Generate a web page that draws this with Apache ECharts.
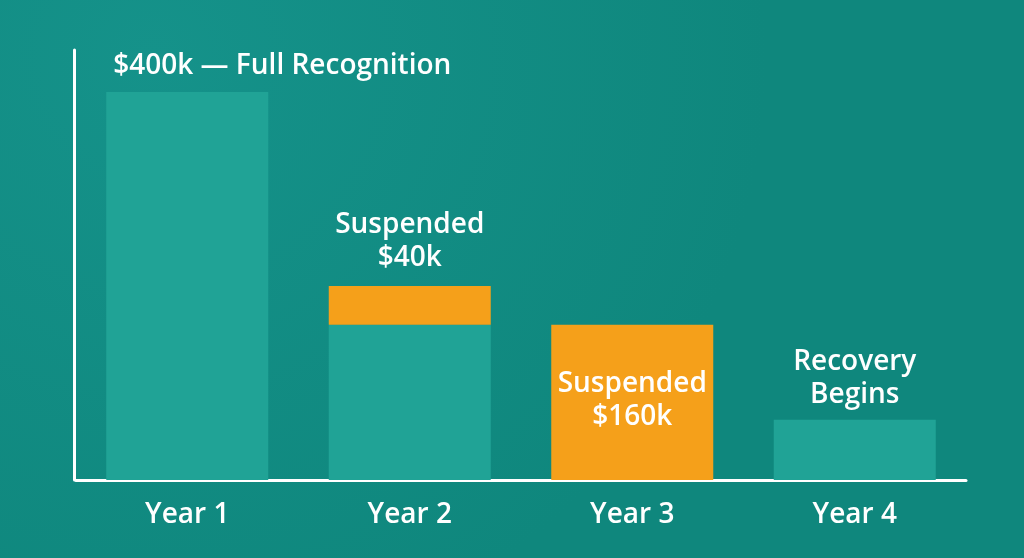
<!DOCTYPE html>
<html>
<head>
<meta charset="utf-8">
<style>
html,body{margin:0;padding:0;background:#11897f;}
#chart{width:1024px;height:558px;}
</style>
<script src="https://cdn.jsdelivr.net/npm/echarts@6/dist/echarts.min.js"></script>
</head>
<body>
<div id="chart"></div>
<script>
const categories = ['Year 1', 'Year 2', 'Year 3', 'Year 4'];
const recognizedValues = [400, 160, 0, 62];
const suspendedValues = [0, 40, 160, 0];
const recognizedLabels = ['$400k — Full Recognition', '', '', 'Recovery\nBegins'];
const suspendedLabels = ['', 'Suspended\n$40k', 'Suspended\n$160k', ''];

const FONT = '"Open Sans"';
const labelBase = {
  show: true, color: '#ffffff', fontFamily: FONT, fontWeight: 600, fontSize: 28, lineHeight: 33
};

const chart = echarts.init(document.getElementById('chart'), null, {renderer: 'canvas'});
chart.setOption({
  backgroundColor: {
    type: 'radial', x: 0.15, y: 0.1, r: 1.1,
    colorStops: [{offset: 0, color: '#15928a'}, {offset: 1, color: '#0f877d'}]
  },
  animation: false,
  grid: {left: 76, right: 58, top: 50, bottom: 78},
  xAxis: {
    type: 'category', data: categories, offset: 2,
    axisLine: {show: true, lineStyle: {color: '#ffffff', width: 3}},
    axisTick: {show: false},
    axisLabel: {color: '#ffffff', fontFamily: FONT, fontWeight: 600, fontSize: 28, margin: 19}
  },
  yAxis: {
    type: 'value', min: 0, max: 443.3, offset: 2,
    axisLine: {show: true, lineStyle: {color: '#ffffff', width: 3}},
    axisTick: {show: false}, axisLabel: {show: false}, splitLine: {show: false}
  },
  series: [
    {
      type: 'bar', stack: 'a', barWidth: 162,
      itemStyle: {color: '#20a396'},
      data: recognizedValues.map((v, i) => {
        const d = {value: v};
        if (i === 0) d.label = Object.assign({}, labelBase, {position: [7, -26], align: 'left', verticalAlign: 'middle', formatter: recognizedLabels[i]});
        else if (recognizedLabels[i]) d.label = Object.assign({}, labelBase, {position: 'top', distance: 8, formatter: recognizedLabels[i]});
        return d;
      })
    },
    {
      type: 'bar', stack: 'a', barWidth: 162,
      itemStyle: {color: '#f5a01a'},
      data: suspendedValues.map((v, i) => {
        const d = {value: v};
        if (i === 1) d.label = Object.assign({}, labelBase, {position: 'top', distance: 11, formatter: suspendedLabels[i]});
        else if (i === 2) d.label = Object.assign({}, labelBase, {position: 'inside', offset: [0, -2], formatter: suspendedLabels[i]});
        return d;
      })
    }
  ]
});
</script>
</body>
</html>
